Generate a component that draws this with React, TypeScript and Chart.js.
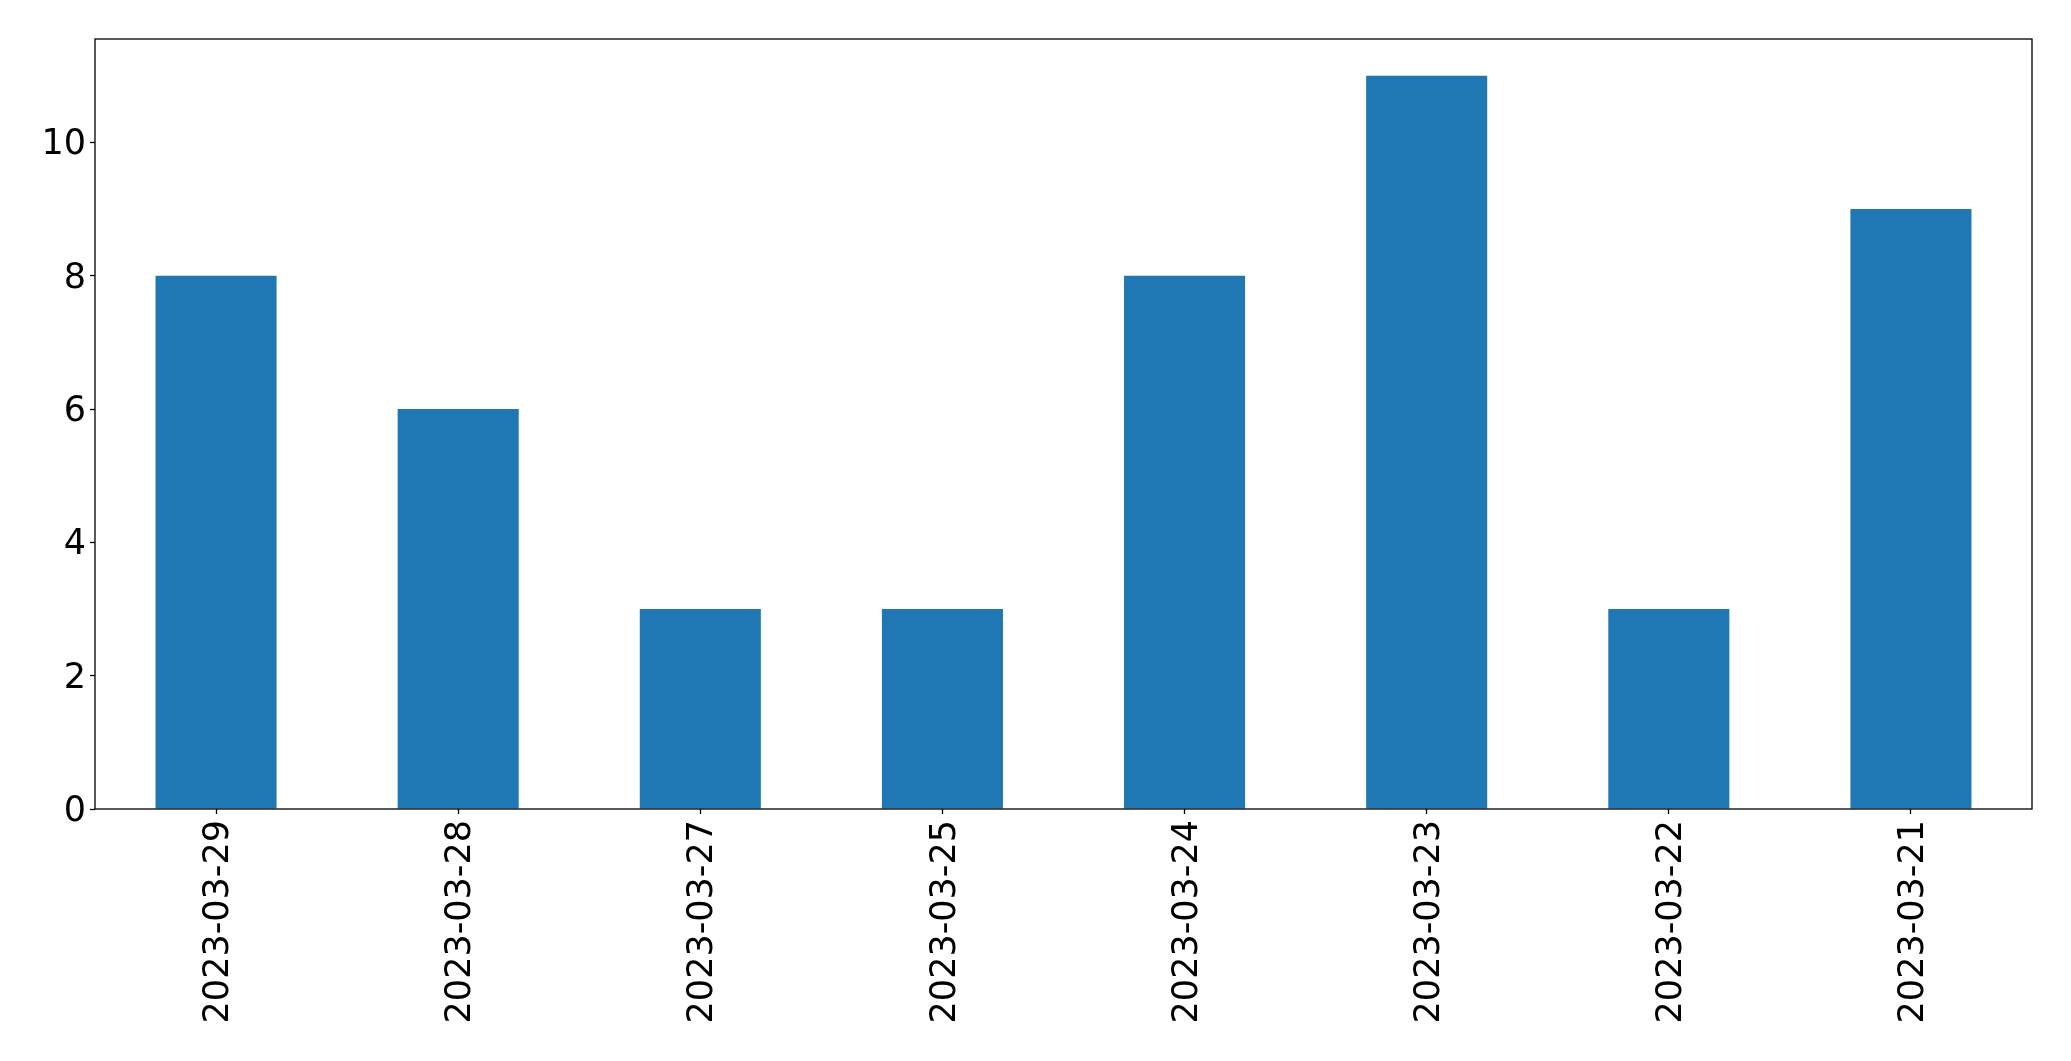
import React, { useEffect, useRef } from "react";
import { Chart, registerables } from "chart.js";

Chart.register(...registerables);

const categories = [
  "2023-03-29",
  "2023-03-28",
  "2023-03-27",
  "2023-03-25",
  "2023-03-24",
  "2023-03-23",
  "2023-03-22",
  "2023-03-21",
];
const counts = [8, 6, 3, 3, 8, 11, 3, 9];
const yMax = 11.55;
const yStep = 2;

const frame = {
  id: "frame",
  afterDraw(chart: any) {
    const { ctx, chartArea } = chart;
    ctx.save();
    ctx.strokeStyle = "#000";
    ctx.lineWidth = 1.3;
    ctx.strokeRect(chartArea.left, chartArea.top, chartArea.right - chartArea.left, chartArea.bottom - chartArea.top);
    ctx.restore();
  },
};

export default function App() {
  const ref = useRef<HTMLCanvasElement>(null);
  useEffect(() => {
    const font = { family: "'DejaVu Sans'", size: 35 };
    const chart = new Chart(ref.current!, {
      type: "bar",
      data: {
        labels: categories,
        datasets: [
          {
            data: counts,
            backgroundColor: "#1f77b4",
            barPercentage: 0.5,
            categoryPercentage: 1,
          },
        ],
      },
      options: {
        animation: false,
        responsive: false,
        maintainAspectRatio: false,
        layout: { padding: { left: 0, top: 39, right: 39, bottom: 0 } },
        plugins: { legend: { display: false }, tooltip: { enabled: false } },
        scales: {
          x: {
            grid: { drawOnChartArea: false, offset: false, tickLength: 5, color: "#000", tickWidth: 1.3 },
            border: { display: false },
            ticks: { font, color: "#000", minRotation: 90, maxRotation: 90, padding: 6, labelOffset: 3, autoSkip: false },
            afterFit(scale: any) {
              scale.height = 252;
            },
          },
          y: {
            min: 0,
            max: yMax,
            grid: { drawOnChartArea: false, tickLength: 5, color: "#000", tickWidth: 1.3 },
            border: { display: false },
            ticks: { font, color: "#000", stepSize: yStep, includeBounds: false, padding: 4, labelOffset: 3 },
            afterFit(scale: any) {
              scale.width = 95;
            },
          },
        },
      },
      plugins: [frame],
    });
    return () => chart.destroy();
  }, []);
  return (
    <div style={{ position: "fixed", left: 0, top: 0, width: 2071, height: 1061, background: "#fff" }}>
      <canvas ref={ref} width={2071} height={1061} style={{ width: 2071, height: 1061 }} />
    </div>
  );
}
